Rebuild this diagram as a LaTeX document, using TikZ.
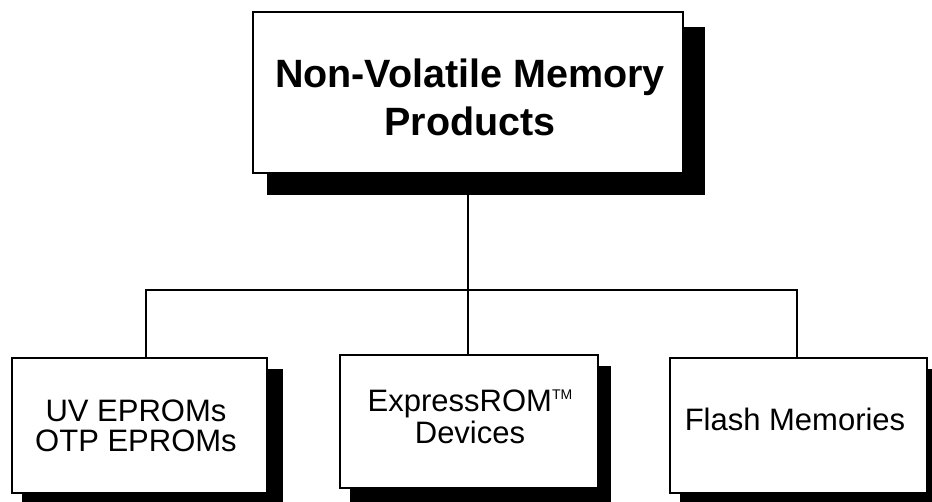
\documentclass[tikz,border=0pt]{standalone}
\usepackage{fontspec}
\setmainfont{Liberation Sans}
\usetikzlibrary{backgrounds,calc}
\begin{document}
\begin{tikzpicture}[x=1pt,y=-1pt,
  boxst/.style={draw, line width=2pt, fill=white, inner sep=0pt, rectangle},
  shadowst/.style={fill=black},
  link/.style={line width=1.1pt},
  toptext/.style={font=\fontsize{39.5}{48}\selectfont\bfseries, align=center, inner sep=0pt},
  subtext/.style={font=\fontsize{31}{30}\selectfont, align=center, inner sep=0pt}]
\useasboundingbox (0,0) rectangle (932,501);
% boxes
\node[boxst, minimum width=430pt, minimum height=161pt] (top) at (468,92.5) {};
\node[boxst, minimum width=255pt, minimum height=135pt] (left) at (139.5,425.5) {};
\node[boxst, minimum width=258pt, minimum height=133pt] (mid) at (469,421.5) {};
\node[boxst, minimum width=257pt, minimum height=135pt] (right) at (798.5,425.5) {};
% labels
\node[toptext] (toplabel) at (470,97.5) {Non-Volatile Memory\\Products};
\node[subtext] (leftlabel) at (136,425.5) {UV EPROMs\\OTP EPROMs};
\node[subtext, font=\fontsize{31}{32}\selectfont] (midlabel) at (470,417) {ExpressROM\raisebox{12pt}{\fontsize{14}{14}\selectfont TM}\\Devices};
\node[subtext] (rightlabel) at (795,419) {Flash Memories};
\coordinate (junction) at (468,290);
\begin{pgfonlayer}{background}
  % connectors
  \draw[link] (junction |- top.south) -- (junction);
  \draw[link] (junction) -- (junction |- mid.north);
  \draw[link] ([xshift=6.5pt]left.north) |- (junction) -| ([xshift=-1.5pt]right.north);
  % shadows
  \fill[shadowst] ([shift={(15pt,-16pt)}]top.north west) rectangle ([shift={(21pt,-21pt)}]top.south east);
  \fill[shadowst] ([shift={(11pt,-12pt)}]left.north west) rectangle ([shift={(15pt,-10pt)}]left.south east);
  \fill[shadowst] ([shift={(11pt,-12pt)}]mid.north west) rectangle ([shift={(12pt,-14pt)}]mid.south east);
  \fill[shadowst] ([shift={(11pt,-12pt)}]right.north west) rectangle ([shift={(15pt,-10pt)}]right.south east);
\end{pgfonlayer}
\end{tikzpicture}
\end{document}
